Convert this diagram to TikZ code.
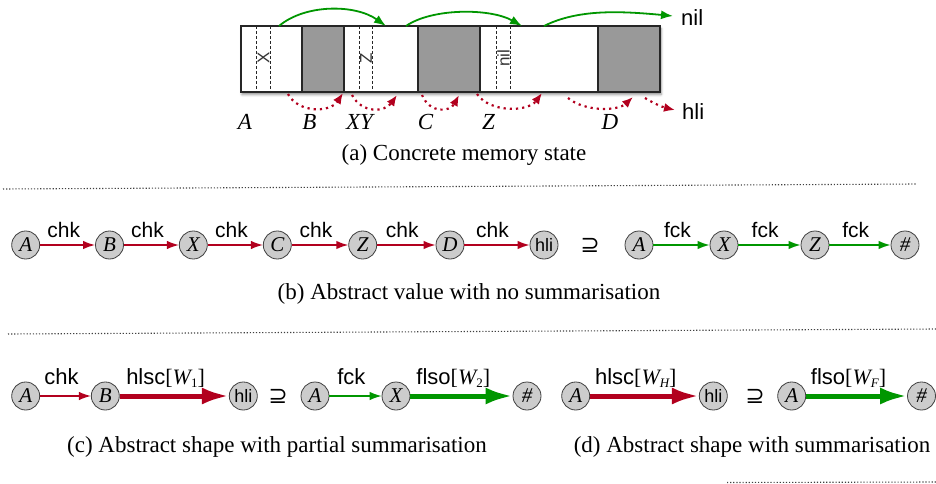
\documentclass[tikz,border=0pt]{standalone}
\usepackage{fontspec}
\setmainfont{Liberation Serif}
\setsansfont{Liberation Sans}
\newfontfamily\lblfont{Liberation Sans}
\newfontfamily\symfont{DejaVu Sans}
\usetikzlibrary{arrows.meta,shadows.blur}

\definecolor{cred}{RGB}{178,0,30}
\definecolor{cgreen}{RGB}{0,150,0}
\definecolor{cellgrey}{RGB}{153,153,153}
\definecolor{vfill}{RGB}{204,204,204}

\newcommand{\lblsize}{\lblfont\fontsize{21}{21}\selectfont}
\newcommand{\lblbig}{\lblfont\fontsize{22}{22}\selectfont}
\newcommand{\subsc}[1]{\raisebox{-3pt}{\rmfamily\fontsize{13}{13}\selectfont #1}}
\newcommand{\wlab}[1]{{\rmfamily\fontsize{22}{22}\selectfont[{\itshape W}\subsc{#1}]}}

\tikzset{
  vtx/.style={circle, draw=black!75, fill=vfill, line width=0.8pt,
    minimum size=28pt, inner sep=0pt, font=\fontsize{21}{21}\selectfont\itshape},
  hlinode/.style={vtx, font=\lblfont\fontsize{18}{18}\selectfont},
  supnode/.style={inner sep=0pt, font=\symfont\fontsize{23}{23}\selectfont},
  rarr/.style={draw=cred, line width=1.5pt, -{Latex[length=12pt,width=8.5pt]}},
  garr/.style={draw=cgreen, line width=1.5pt, -{Latex[length=12pt,width=8.5pt]}},
  rthick/.style={draw=cred, line width=5pt, -{Latex[length=27pt,width=17pt]}},
  gthick/.style={draw=cgreen, line width=5pt, -{Latex[length=27pt,width=17pt]}},
  lblb/.style={pos=0.43, anchor=base, inner sep=0pt, yshift=8pt, font=\lblsize},
  lblc/.style={pos=0.42, anchor=base, inner sep=0pt, yshift=12pt, font=\lblbig},
  caption/.style={inner sep=0pt, font=\fontsize{23}{23}\selectfont},
  memlbl/.style={inner sep=0pt, font=\fontsize{23}{23}\selectfont\itshape},
  celltxt/.style={inner sep=0pt, rotate=90, text=black!80, font=\sffamily\fontsize{17}{17}\selectfont},
  ptr/.style={draw=cgreen, line width=1.8pt, -{Latex[length=12pt,width=9pt]}},
  bptr/.style={draw=cred, line width=2.2pt, dash pattern=on 2.2pt off 4pt,
    -{Latex[length=11pt,width=9pt]}},
  sep/.style={draw=black!75, line width=1.1pt, dash pattern=on 1.2pt off 1.9pt},
  cellline/.style={draw=black!85, line width=1.3pt},
  slotline/.style={draw=black!85, line width=0.7pt, dash pattern=on 3pt off 2pt}
}

\begin{document}
\begin{tikzpicture}[x=1pt,y=-1pt]
\useasboundingbox (0,0) rectangle (936,484);

% ---------- (a) memory block ----------
\fill[white, blur shadow={shadow xshift=1pt, shadow yshift=-2.5pt, shadow blur radius=2.5pt, shadow opacity=45}]
  (241,26) rectangle (660,92);
\fill[cellgrey] (302,26) rectangle (344,92);
\fill[cellgrey] (418,26) rectangle (480,92);
\fill[cellgrey] (598,26) rectangle (660,92);
\draw[slotline] (256.7,26) -- (256.7,92);
\draw[slotline] (270,26) -- (270,92);
\draw[slotline] (359.3,26) -- (359.3,92);
\draw[slotline] (372.7,26) -- (372.7,92);
\draw[slotline] (496.7,26) -- (496.7,92);
\draw[slotline] (510,26) -- (510,92);
\foreach \xx in {302,344,418,480,598}
  \draw[cellline] (\xx,26) -- (\xx,92);
\draw[cellline] (241,26) rectangle (660,92);

\node[celltxt] (tx) at (263.4,58) {X};
\node[celltxt] (tz) at (366,58) {Z};
\node[celltxt] (tnil) at (503.4,58) {nil};

% forward pointers
\draw[ptr] (279,26) .. controls (305,4) and (355,4) .. (386,26);
\draw[ptr] (406,26) .. controls (432,8) and (490,8) .. (522,26);
\draw[ptr] (544,26) .. controls (578,9) and (620,11) .. (673,16);
\node[anchor=west, inner sep=0pt, font=\lblbig] (nilend) at (681,18) {nil};

% backward pointers
\draw[bptr] (288,94) .. controls (298,113) and (330,113) .. (343,93);
\draw[bptr] (352,95) .. controls (362,114) and (385,112) .. (397,95);
\draw[bptr] (422,95) .. controls (430,114) and (450,112) .. (459,95);
\draw[bptr] (477,94) .. controls (490,113) and (528,112) .. (542,93);
\draw[bptr] (568,98) .. controls (585,112) and (618,111) .. (633,97);
\draw[bptr] (645,98) .. controls (653,103) and (662,107) .. (675,110);
\node[anchor=west, inner sep=0pt, font=\lblbig] (hliend) at (682,112) {hli};

\node[memlbl] (la) at (245,122) {A};
\node[memlbl] (lb) at (309.5,122) {B};
\node[memlbl] (lxy) at (359.5,122) {XY};
\node[memlbl] (lc) at (425.5,122) {C};
\node[memlbl] (lz) at (488.5,122) {Z};
\node[memlbl] (ld) at (610,122) {D};

\node[caption] (capa) at (464,155) {(a) Concrete memory state};

\draw[sep] (3,189) -- (917,184);

% ---------- (b) abstract value ----------
\node[vtx] (bA) at (25.7,245) {A};
\node[vtx] (bB) at (109.5,245) {B};
\node[vtx] (bX) at (193.3,245) {X};
\node[vtx] (bC) at (277.3,245) {C};
\node[vtx] (bZ) at (362.7,245) {Z};
\node[vtx] (bD) at (450,245) {D};
\node[hlinode] (bH) at (544,245) {hli};
\node[supnode] (bsup) at (590,245) {⊇};
\node[vtx] (bA2) at (639,245) {A};
\node[vtx] (bX2) at (724,245) {X};
\node[vtx] (bZ2) at (815,245) {Z};
\node[vtx] (bN) at (905,245) {\#};

\draw[rarr] (bA) -- node[lblb]{chk} (bB);
\draw[rarr] (bB) -- node[lblb]{chk} (bX);
\draw[rarr] (bX) -- node[lblb]{chk} (bC);
\draw[rarr] (bC) -- node[lblb]{chk} (bZ);
\draw[rarr] (bZ) -- node[lblb]{chk} (bD);
\draw[rarr] (bD) -- node[lblb]{chk} (bH);
\draw[garr] (bA2) -- node[lblb]{fck} (bX2);
\draw[garr] (bX2) -- node[lblb]{fck} (bZ2);
\draw[garr] (bZ2) -- node[lblb]{fck} (bN);

\node[caption] (capb) at (469,294) {(b) Abstract value with no summarisation};

\draw[sep] (8,334) -- (936,329);

% ---------- (c) partial summarisation ----------
\node[vtx] (cA) at (25.7,396) {A};
\node[vtx] (cB) at (105.3,396) {B};
\node[hlinode] (cH) at (243.3,396) {hli};
\node[supnode] (csup) at (278,396) {⊇};
\node[vtx] (cA2) at (315,396) {A};
\node[vtx] (cX) at (396,396) {X};
\node[vtx] (cN) at (527,396) {\#};

\draw[rarr, line width=1.3pt] (cA) -- node[lblc]{chk} (cB);
\draw[rthick] (cB) -- node[lblc]{hlsc\wlab{1}} (cH);
\draw[garr, line width=1.3pt] (cA2) -- node[lblc]{fck} (cX);
\draw[gthick] (cX) -- node[lblc]{flso\wlab{2}} (cN);

\node[caption] (capc) at (277,447) {(c) Abstract shape with partial summarisation};

% ---------- (d) full summarisation ----------
\node[vtx] (dA) at (575.7,396) {A};
\node[hlinode] (dH) at (713.3,396) {hli};
\node[supnode] (dsup) at (755,396) {⊇};
\node[vtx] (dA2) at (791.7,396) {A};
\node[vtx] (dN) at (921.5,396) {\#};

\draw[rthick] (dA) -- node[lblc]{hlsc\wlab{\itshape H}} (dH);
\draw[gthick] (dA2) -- node[lblc]{flso\wlab{\itshape F}} (dN);

\node[caption] (capd) at (752,447) {(d) Abstract shape with summarisation};

\draw[sep] (727,482.5) -- (936,482);
\end{tikzpicture}
\end{document}
